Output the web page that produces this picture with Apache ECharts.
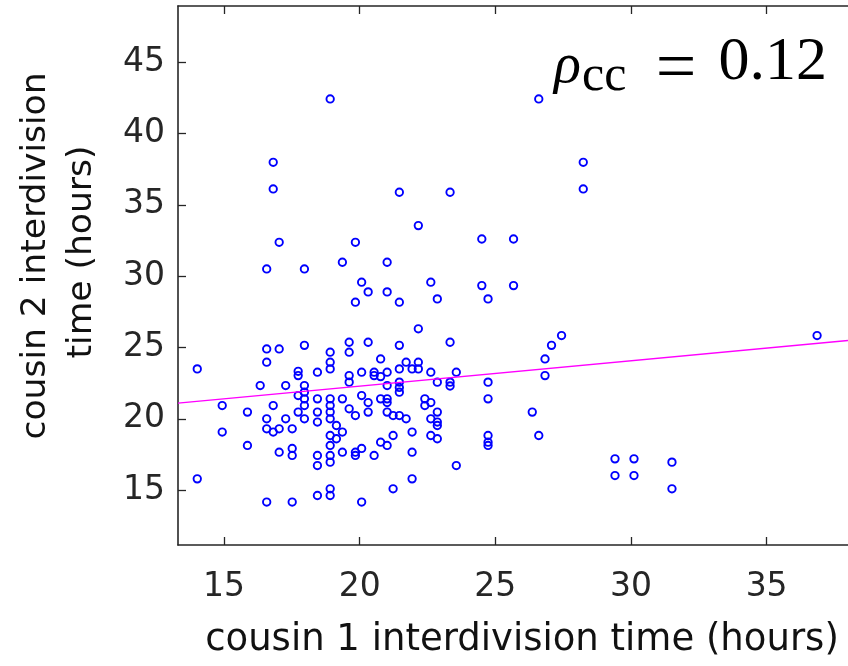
<!DOCTYPE html>
<html><head><meta charset="utf-8">
<script src="https://cdn.jsdelivr.net/npm/echarts@6/dist/echarts.min.js"></script>
<style>html,body{margin:0;padding:0;background:#fff}#c{width:848px;height:666px}</style>
</head><body><div id="c"></div>
<script>
// cousin 1 interdivision time (hours)
const cousin1 = [
 14.01,14.01, 14.93,14.93, 15.86,15.86, 16.33,
 16.57,16.57,16.57,16.57,16.57,16.57,
 16.81,16.81,16.81,16.81,
 17.03,17.03,17.03,17.03,
 17.27,17.27,
 17.51,17.51,17.51,17.51,
 17.73,17.73,17.73,17.73,
 17.96,17.96,17.96,17.96,17.96,17.96,17.96,
 18.44,18.44,18.44,18.44,18.44,18.44,18.44,
 18.91,18.91,18.91,18.91,18.91,18.91,18.91,18.91,18.91,18.91,18.91,18.91,18.91,18.91,
 19.14,19.14,
 19.36,19.36,19.36,19.36,
 19.61,19.61,19.61,19.61,19.61,
 19.84,19.84,19.84,19.84,19.84,
 20.07,20.07,20.07,20.07,20.07,
 20.31,20.31,20.31,20.31,
 20.53,20.53,20.53,
 20.77,20.77,20.77,20.77,
 21.01,21.01,21.01,21.01,21.01,21.01,21.01,21.01,
 21.23,21.23,21.23,
 21.46,21.46,21.46,21.46,21.46,21.46,21.46,21.46,
 21.71,21.71,
 21.93,21.93,21.93,21.93,
 22.16,22.16,22.16,22.16,
 22.40,22.40,
 22.62,22.62,22.62,22.62,22.62,
 22.86,22.86,22.86,22.86,22.86,22.86,
 23.33,23.33,23.33,23.33,
 23.56,23.56,
 24.50,24.50,
 24.73,24.73,24.73,24.73,24.73,24.73,
 25.67,25.67,
 26.36,
 26.60,26.60,
 26.83,26.83,
 27.07, 27.44,
 28.24,28.24,
 29.41,29.41,
 30.11,30.11,
 31.51,31.51,
 36.86
];
// cousin 2 interdivision time (hours)
const cousin2 = [
 23.5,15.79, 20.93,19.07, 20.47,18.13, 22.33,
 30.51,24.9,23.97,20.0,19.3,14.16,
 37.99,36.12,20.93,19.07,
 32.38,24.9,19.3,17.66,
 22.33,20.0,
 19.3,17.92,17.43,14.16,
 23.33,23.03,21.63,20.47,
 30.51,25.15,22.33,21.87,21.4,20.93,20.0,
 23.27,21.4,20.47,19.77,17.43,16.72,14.62,
 42.43,24.67,23.97,23.5,21.4,20.93,20.47,20.0,18.83,18.13,17.43,16.96,15.09,14.62,
 19.53,18.6,
 30.98,21.4,19.07,17.66,
 25.37,24.67,23.03,22.57,20.7,
 32.38,28.18,20.23,17.66,17.43,
 29.58,23.27,21.63,17.92,14.16,
 28.9,25.37,21.14,20.47,
 23.27,23.03,17.43,
 24.2,22.96,21.4,18.36,
 30.98,28.9,23.27,22.33,21.4,21.14,20.47,18.13,
 20.23,18.83,15.09,
 35.89,28.18,25.15,23.5,22.57,22.2,21.87,20.23,
 23.97,20.0,
 23.5,19.07,17.66,15.79,
 33.55,26.31,23.97,23.5,
 21.4,20.93,
 29.58,23.27,21.14,20.0,18.83,
 28.41,22.57,20.47,19.77,19.53,18.6,
 35.89,25.37,22.57,22.3,
 23.27,16.72,
 32.61,29.34,
 28.41,22.57,21.4,18.83,18.36,18.13,
 32.61,29.34,
 20.47,
 42.43,18.83,
 24.2,23.03,
 25.15, 25.84,
 37.99,36.12,
 17.19,16.02,
 17.19,16.02,
 16.96,15.09,
 25.84
];
// fitted line endpoints
const fitX = [13.3, 38];
const fitY = [21.1, 25.49];
const xTicks = [15, 20, 25, 30, 35];
const yTicks = [15, 20, 25, 30, 35, 40, 45];
const xTitle = 'cousin 1 interdivision time (hours)';
const yTitle1 = 'cousin 2 interdivision';
const yTitle2 = 'time (hours)';
const rhoValue = '0.12';

const pts = cousin1.map((x, i) => [x, cousin2[i]]);
const fitPts = fitX.map((x, i) => [x, fitY[i]]);

const axisCol = '#262626';
const lbl = {fontSize: 33, fontFamily: 'DejaVu Sans', color: axisCol};

const chart = echarts.init(document.getElementById('c'), null, {renderer: 'canvas'});
chart.setOption({
  animation: false,
  backgroundColor: '#fff',
  grid: {left: 178, right: 0, top: 6, bottom: 121, containLabel: false, outerBoundsMode: 'none'},
  xAxis: [{
    type: 'value', min: 13.3, max: 38, position: 'bottom',
    axisLine: {show: true, lineStyle: {color: axisCol, width: 1.6}},
    axisTick: {show: true, inside: true, length: 8, customValues: xTicks, lineStyle: {color: axisCol, width: 1.3}},
    axisLabel: Object.assign({customValues: xTicks, margin: 26}, lbl),
    splitLine: {show: false}
  }, {
    type: 'value', min: 13.3, max: 38, position: 'top',
    axisLine: {show: true, onZero: false, lineStyle: {color: axisCol, width: 1.6}},
    axisTick: {show: true, inside: true, length: 8, customValues: xTicks, lineStyle: {color: axisCol, width: 1.3}},
    axisLabel: {show: false},
    splitLine: {show: false}
  }],
  yAxis: {
    type: 'value', min: 11.15, max: 48.95,
    axisLine: {show: true, onZero: false, lineStyle: {color: axisCol, width: 1.6}},
    axisTick: {show: true, inside: true, length: 8, customValues: yTicks, lineStyle: {color: axisCol, width: 1.3}},
    axisLabel: Object.assign({customValues: yTicks, margin: 13}, lbl),
    splitLine: {show: false}
  },
  series: [{
    type: 'scatter', data: pts, symbol: 'circle', symbolSize: 7.4,
    itemStyle: {color: 'rgba(0,0,0,0)', borderColor: '#0000ff', borderWidth: 1.9, opacity: 1},
    xAxisIndex: 0, yAxisIndex: 0
  }, {
    type: 'line', data: fitPts, showSymbol: false, symbol: 'none',
    lineStyle: {color: '#ff00ff', width: 1.4}, xAxisIndex: 0, yAxisIndex: 0, z: 3
  }],
  graphic: [
    {type: 'text', x: 522, y: 640, style: {text: xTitle, fontSize: 37, fontFamily: 'DejaVu Sans', fill: '#111', align: 'center', verticalAlign: 'middle'}},
    {type: 'text', x: 36, y: 256, rotation: Math.PI / 2, style: {text: yTitle1, fontSize: 34.5, fontFamily: 'DejaVu Sans', fill: '#111', align: 'center', verticalAlign: 'middle'}},
    {type: 'text', x: 82, y: 252, rotation: Math.PI / 2, style: {text: yTitle2, fontSize: 34.5, fontFamily: 'DejaVu Sans', fill: '#111', align: 'center', verticalAlign: 'middle'}},
    {type: 'text', x: 554, y: 67, style: {text: 'ρ', fontSize: 56, fontStyle: 'italic', fontFamily: 'Liberation Serif', fill: '#000', align: 'left', verticalAlign: 'middle'}},
    {type: 'text', x: 582, y: 76.5, style: {text: 'cc', fontSize: 50, fontFamily: 'Liberation Serif', fill: '#000', align: 'left', verticalAlign: 'middle'}},
    {type: 'text', x: 676, y: 71, style: {text: '=', fontSize: 72, fontFamily: 'Liberation Serif', fill: '#000', align: 'center', verticalAlign: 'middle'}},
    {type: 'text', x: 827, y: 63, style: {text: rhoValue, fontSize: 62, fontFamily: 'Liberation Serif', fill: '#000', align: 'right', verticalAlign: 'middle'}}
  ]
});
</script>
</body></html>
